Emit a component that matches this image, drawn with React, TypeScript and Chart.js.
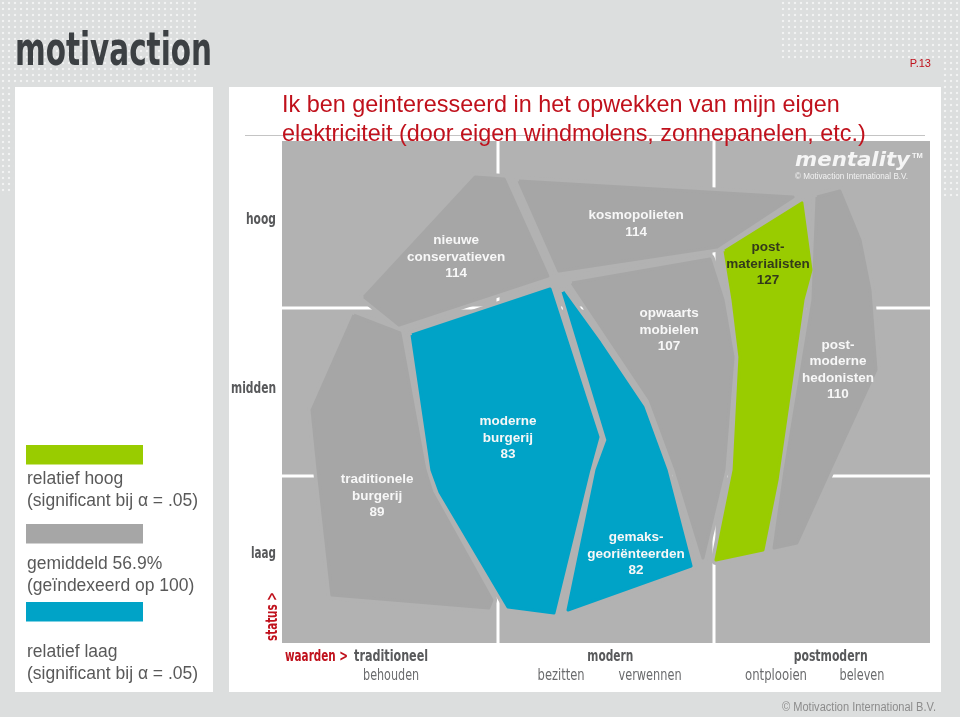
import React, { useEffect, useRef } from 'react';
import { Chart, registerables } from 'chart.js';

Chart.register(...registerables);

// ---------- DATA ----------
const segmentNames = [
  'nieuwe conservatieven',
  'kosmopolieten',
  'post-materialisten',
  'opwaarts mobielen',
  'post-moderne hedonisten',
  'moderne burgerij',
  'traditionele burgerij',
  'gemaks-georiënteerden',
];
const segmentLabelLines = [
  ['nieuwe', 'conservatieven'],
  ['kosmopolieten'],
  ['post-', 'materialisten'],
  ['opwaarts', 'mobielen'],
  ['post-', 'moderne', 'hedonisten'],
  ['moderne', 'burgerij'],
  ['traditionele', 'burgerij'],
  ['gemaks-', 'georiënteerden'],
];
const segmentIndexValues = [114, 114, 127, 107, 110, 83, 89, 82];
const segmentSignificance = ['avg', 'avg', 'high', 'avg', 'avg', 'low', 'avg', 'low'];
// label anchor (waarden axis 0..3, status axis 0..3)
const labelWaarden = [0.806, 1.639, 2.25, 1.792, 2.574, 1.046, 0.44, 1.639];
const labelStatus = [2.307, 2.504, 2.265, 1.871, 1.632, 1.225, 0.878, 0.532];

// segment outlines in (waarden, status) units
const nieuweConservatievenShape = [[0.380, 2.068], [0.894, 2.785], [1.028, 2.773], [1.231, 2.193], [0.542, 1.900]];
const kosmopolietenShape = [[1.097, 2.761], [2.366, 2.665], [2.014, 2.367], [1.282, 2.223]];
const postMaterialistenShape = [[2.051, 2.343], [2.407, 2.630], [2.449, 2.229], [2.412, 2.050], [2.292, 0.974], [2.227, 0.556], [2.009, 0.496], [2.093, 1.034], [2.120, 1.709], [2.088, 2.050]];
const opwaartsMobielenShape = [[1.343, 2.151], [1.981, 2.295], [2.042, 2.050], [2.088, 1.709], [2.046, 1.034], [1.949, 0.508], [1.824, 1.034], [1.704, 1.452]];
const postModerneHedonistenShape = [[2.477, 2.665], [2.583, 2.701], [2.676, 2.408], [2.722, 2.110], [2.750, 1.632], [2.537, 1.034], [2.384, 0.598], [2.278, 0.568], [2.329, 1.034], [2.458, 2.050]];
const moderneBurgerijShape = [[0.602, 1.841], [1.241, 2.116], [1.463, 1.231], [1.421, 1.034], [1.259, 0.179], [1.046, 0.215], [0.731, 0.902], [0.694, 1.034]];
const traditioneleBurgerijShape = [[0.333, 1.960], [0.546, 1.853], [0.662, 1.034], [0.694, 0.902], [0.972, 0.257], [0.958, 0.209], [0.231, 0.287], [0.167, 1.034], [0.139, 1.392]];
const gemaksGeorienteerdenShape = [[1.301, 2.098], [1.472, 1.793], [1.671, 1.410], [1.778, 1.034], [1.894, 0.460], [1.324, 0.197], [1.458, 1.034], [1.509, 1.213]];

const segmentShapes = [
  nieuweConservatievenShape,
  kosmopolietenShape,
  postMaterialistenShape,
  opwaartsMobielenShape,
  postModerneHedonistenShape,
  moderneBurgerijShape,
  traditioneleBurgerijShape,
  gemaksGeorienteerdenShape,
];

// grid + axis labels
const waardenGrid = [1, 2];
const statusGrid = [1, 2];
const statusLabels = ['laag', 'midden', 'hoog'];
const statusLabelPos = [0.508, 1.494, 2.504];
const waardenLabels = ['traditioneel', 'modern', 'postmodern'];
const waardenLabelPos = [0.505, 1.52, 2.54];
const waardenSubLabels = ['behouden', 'bezitten', 'verwennen', 'ontplooien', 'beleven'];
const waardenSubLabelPos = [0.505, 1.292, 1.704, 2.287, 2.685];

const legendItems = ['high', 'avg', 'low'];
const legendLines = [
  ['relatief hoog', '(significant bij α = .05)'],
  ['gemiddeld 56.9%', '(geïndexeerd op 100)'],
  ['relatief laag', '(significant bij α = .05)'],
];

const titleLines = [
  'Ik ben geinteresseerd in het opwekken van mijn eigen',
  'elektriciteit (door eigen windmolens, zonnepanelen, etc.)',
];

// ---------- STYLE ----------
const BG = '#b2b2b2';
const RED = '#c0111c';
const AXIS_GREY = '#58595b';
const fillFor = (s: string) => (s === 'high' ? '#99cc00' : s === 'low' ? '#00a3c7' : '#a6a6a6');
const COND = '"DejaVu Sans Condensed", "DejaVu Sans", sans-serif';
const ARIAL = '"Liberation Sans", Arial, Helvetica, sans-serif';

const textWidth: Record<string, number> = {
  hoog: 30, midden: 45, laag: 25,
  traditioneel: 74, modern: 46, postmodern: 74,
  behouden: 56, bezitten: 47, verwennen: 63, ontplooien: 62, beleven: 45,
};

function drawFit(ctx: CanvasRenderingContext2D, text: string, x: number, y: number, width: number, align: CanvasTextAlign) {
  const w = ctx.measureText(text).width || 1;
  ctx.save();
  ctx.translate(x, y);
  ctx.scale(width / w, 1);
  ctx.textAlign = align;
  ctx.fillText(text, 0, 0);
  ctx.restore();
}

const toPoints = (s: number[][]) => [...s, s[0]].map(([x, y]) => ({ x, y }));

const backgroundPlugin = {
  id: 'mapBackground',
  beforeDraw(chart: any) {
    const { ctx, chartArea: a } = chart;
    ctx.save();
    ctx.fillStyle = BG;
    ctx.fillRect(a.left, a.top, a.right - a.left, a.bottom - a.top);
    ctx.restore();
  },
  beforeDatasetsDraw(chart: any) {
    const { ctx, chartArea: a, scales } = chart;
    ctx.save();
    ctx.strokeStyle = '#ffffff';
    ctx.lineWidth = 3;
    waardenGrid.forEach((v) => {
      const x = Math.round(scales.x.getPixelForValue(v));
      ctx.beginPath();
      ctx.moveTo(x, a.top);
      ctx.lineTo(x, a.bottom);
      ctx.stroke();
    });
    statusGrid.forEach((v) => {
      const y = Math.round(scales.y.getPixelForValue(v));
      ctx.beginPath();
      ctx.moveTo(a.left, y);
      ctx.lineTo(a.right, y);
      ctx.stroke();
    });
    ctx.restore();
  },
};

const labelPlugin = {
  id: 'segmentLabels',
  afterDatasetsDraw(chart: any) {
    const { ctx, scales } = chart;
    ctx.save();
    ctx.font = `bold 13.5px ${ARIAL}`;
    ctx.textAlign = 'center';
    ctx.textBaseline = 'middle';
    segmentNames.forEach((_, i) => {
      const lines = [...segmentLabelLines[i], String(segmentIndexValues[i])];
      const cx = scales.x.getPixelForValue(labelWaarden[i]);
      const cy = scales.y.getPixelForValue(labelStatus[i]);
      const lh = 16.5;
      ctx.fillStyle = segmentSignificance[i] === 'high' ? '#333a1a' : '#f7f7f7';
      lines.forEach((l, k) => {
        ctx.fillText(l, cx, cy + (k - (lines.length - 1) / 2) * lh);
      });
    });
    ctx.restore();
  },
};

const axisPlugin = {
  id: 'mapAxes',
  afterDraw(chart: any) {
    const { ctx, scales, chartArea: a } = chart;
    ctx.save();
    ctx.textBaseline = 'alphabetic';
    // status labels
    ctx.fillStyle = AXIS_GREY;
    ctx.font = `bold 15px ${COND}`;
    statusLabels.forEach((l, i) => {
      drawFit(ctx, l, a.left - 6, scales.y.getPixelForValue(statusLabelPos[i]), textWidth[l], 'right');
    });
    // status axis title
    ctx.fillStyle = RED;
    ctx.font = `bold 15px ${COND}`;
    ctx.save();
    ctx.translate(a.left - 5, a.bottom - 2);
    ctx.rotate(-Math.PI / 2);
    drawFit(ctx, 'status >', 0, 0, 49, 'left');
    ctx.restore();
    // waarden axis title
    ctx.font = `bold 16px ${COND}`;
    drawFit(ctx, 'waarden >', a.left + 3, a.bottom + 18, 63, 'left');
    // waarden labels
    ctx.fillStyle = AXIS_GREY;
    waardenLabels.forEach((l, i) => {
      drawFit(ctx, l, scales.x.getPixelForValue(waardenLabelPos[i]), a.bottom + 18, textWidth[l], 'center');
    });
    ctx.fillStyle = '#6a6b6d';
    ctx.font = `16px ${COND}`;
    waardenSubLabels.forEach((l, i) => {
      drawFit(ctx, l, scales.x.getPixelForValue(waardenSubLabelPos[i]), a.bottom + 37, textWidth[l], 'center');
    });
    ctx.restore();
  },
};

const dotPattern = {
  backgroundImage: 'radial-gradient(circle, rgba(245,246,246,0.85) 1.1px, transparent 1.6px)',
  backgroundSize: '6px 6px',
};

export default function App() {
  const canvasRef = useRef<HTMLCanvasElement | null>(null);

  useEffect(() => {
    if (!canvasRef.current) return;
    const halos = segmentShapes.map((s, i) => ({
      label: segmentNames[i] + ' rand',
      data: toPoints(s),
      borderColor: BG,
      backgroundColor: BG,
      borderWidth: 10,
      borderJoinStyle: 'round',
      borderCapStyle: 'round',
      fill: false,
      pointRadius: 0,
      tension: 0,
      order: 2,
    }));
    const fills = segmentShapes.map((s, i) => ({
      label: segmentNames[i],
      data: toPoints(s),
      borderColor: fillFor(segmentSignificance[i]),
      backgroundColor: fillFor(segmentSignificance[i]),
      borderWidth: 3,
      borderJoinStyle: 'round',
      fill: 'shape',
      pointRadius: 0,
      tension: 0,
      order: 1,
    }));
    const chart = new Chart(canvasRef.current, {
      type: 'line',
      data: { datasets: [...fills, ...halos] as any },
      options: {
        animation: false,
        responsive: false,
        devicePixelRatio: 1,
        events: [],
        layout: { padding: { left: 282, top: 141, right: 30, bottom: 74 } },
        scales: {
          x: { type: 'linear', min: 0, max: 3, display: false },
          y: { type: 'linear', min: 0, max: 3, display: false },
        },
        plugins: { legend: { display: false }, tooltip: { enabled: false } },
      },
      plugins: [backgroundPlugin, labelPlugin, axisPlugin],
    } as any);
    return () => chart.destroy();
  }, []);

  return (
    <div style={{ position: 'absolute', left: 0, top: 0, width: 960, height: 717, background: '#dcdede', overflow: 'hidden' }}>
      <div style={{ position: 'absolute', left: 0, top: 0, width: 200, height: 85, ...dotPattern }} />
      <div style={{ position: 'absolute', left: 0, top: 85, width: 14, height: 110, ...dotPattern }} />
      <div style={{ position: 'absolute', left: 780, top: 0, width: 180, height: 60, ...dotPattern }} />
      <div style={{ position: 'absolute', left: 942, top: 60, width: 18, height: 140, ...dotPattern }} />
      <div style={{ position: 'absolute', left: 15, top: 87, width: 198, height: 605, background: '#ffffff' }} />
      <div style={{ position: 'absolute', left: 229, top: 87, width: 712, height: 605, background: '#ffffff' }} />
      <canvas ref={canvasRef} width={960} height={717} style={{ position: 'absolute', left: 0, top: 0, width: 960, height: 717 }} />
      <svg width={960} height={717} style={{ position: 'absolute', left: 0, top: 0, pointerEvents: 'none' }} fontFamily={ARIAL}>
        <text x={15} y={65} fontFamily={COND} fontWeight="bold" fontSize={46} fill="#3c4043" textLength={197} lengthAdjust="spacingAndGlyphs">motivaction</text>
        <text x={931} y={67} fontSize={11} fill={RED} textAnchor="end">P.13</text>
        <line x1={245} y1={135.5} x2={925} y2={135.5} stroke="#c4c4c4" strokeWidth={1} />
        {titleLines.map((t, i) => (
          <text key={t} x={282} y={112 + i * 28.5} fontSize={23.4} fill={RED}>{t}</text>
        ))}
        <text x={795} y={166} fontFamily='"DejaVu Sans", sans-serif' fontWeight="bold" fontStyle="italic" fontSize={20} fill="#f5f5f5" textLength={115} lengthAdjust="spacingAndGlyphs">mentality</text>
        <text x={912} y={158} fontSize={7.5} fontWeight="bold" fill="#f5f5f5">TM</text>
        <text x={795} y={179} fontSize={9.5} fill="#f2f2f2" textLength={113} lengthAdjust="spacingAndGlyphs">© Motivaction International B.V.</text>
        <text x={782} y={711} fontSize={12.5} fill="#8c8c8c" textLength={154} lengthAdjust="spacingAndGlyphs">© Motivaction International B.V.</text>
        {legendItems.map((s, i) => {
          const rectY = [445, 524, 602][i];
          const baseY = [484, 569, 657][i];
          return (
            <g key={s}>
              <rect x={26} y={rectY} width={117} height={19.5} fill={fillFor(s)} />
              {legendLines[i].map((l, k) => (
                <text key={l} x={27} y={baseY + k * 21.5} fontSize={17.5} fill="#595959">{l}</text>
              ))}
            </g>
          );
        })}
      </svg>
    </div>
  );
}
